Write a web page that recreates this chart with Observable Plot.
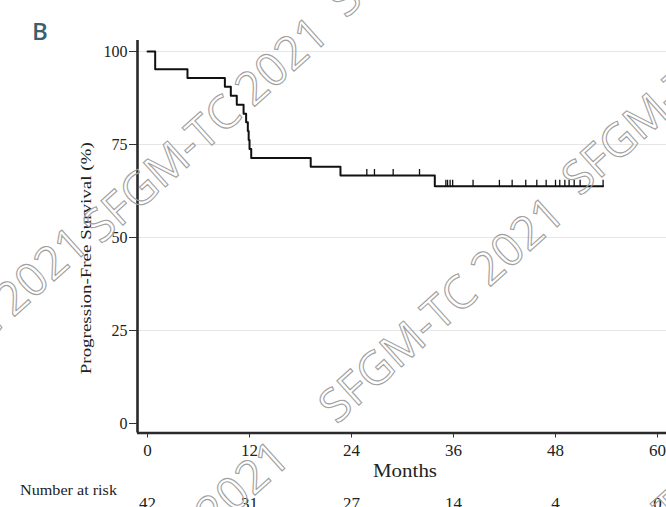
<!DOCTYPE html>
<html><head><meta charset="utf-8">
<script src="https://cdn.jsdelivr.net/npm/d3@7"></script>
<script src="https://cdn.jsdelivr.net/npm/@observablehq/plot@0.6"></script>
<style>
body{margin:0;background:#fff;}
#chart{position:relative;width:666px;height:507px;overflow:hidden;background:#fff;}
</style>
</head><body><div id="chart"></div>
<script>
// Kaplan-Meier steps (month, progression-free survival %)
const stepMonths   = [0, 0.9, 4.7, 9.1, 9.8, 10.5, 11.3, 11.6, 11.8, 11.9, 12.0, 12.2, 19.2, 22.7, 33.8, 53.6];
const stepSurvival = [100, 95.2, 92.9, 90.5, 88.1, 85.7, 83.3, 81.0, 78.6, 76.2, 73.8, 71.4, 69.0, 66.7, 63.8, 63.8];
// Censored observations
const censorMonths   = [25.8, 26.7, 28.9, 32.0, 35.1, 35.3, 35.6, 35.9, 38.3, 41.4, 42.9, 44.5, 45.8, 46.9, 48.0, 48.5, 49.1, 49.6, 50.2, 50.9, 53.6];
const censorSurvival = [66.7, 66.7, 66.7, 66.7, 63.8, 63.8, 63.8, 63.8, 63.8, 63.8, 63.8, 63.8, 63.8, 63.8, 63.8, 63.8, 63.8, 63.8, 63.8, 63.8, 63.8];
// Number at risk
const riskMonths = [0, 12, 24, 36, 48, 60];
const riskCounts = [42, 31, 27, 14, 4, 0];
// Ticks
const xTicks = [0, 12, 24, 36, 48, 60];
const yTicks = [0, 25, 50, 75, 100];
// Texts
const panelLabel = "B";
const yTitle = "Progression-Free Survival (%)";
const xTitle = "Months";
const riskTitle = "Number at risk";
const watermarkText = "SFGM-TC 2021";

const curve = stepMonths.map((m, i) => ({month: m, surv: stepSurvival[i]}));
const censored = censorMonths.map((m, i) => ({month: m, surv: censorSurvival[i]}));
const risk = riskMonths.map((m, i) => ({month: m, n: riskCounts[i]}));

const xDomain = [-1.18, 61.06];
const yDomain = [-2.55, 102.96];
const tickUp = {draw(ctx, size) { const h = Math.sqrt(size / Math.PI) * 2; ctx.moveTo(0, 0); ctx.lineTo(0, -h); }};
const serif = "'Liberation Serif', 'Times New Roman', serif";

const plot = Plot.plot({
  width: 666, height: 507,
  marginLeft: 137, marginRight: 0, marginTop: 40, marginBottom: 74.5,
  style: {fontFamily: serif, fontSize: "17px", color: "#222", background: "transparent", overflow: "visible"},
  x: {domain: xDomain},
  y: {domain: yDomain},
  marks: [
    Plot.gridY(yTicks.filter(t => t > 0), {stroke: "#e6e6e6", strokeOpacity: 1, strokeWidth: 1}),
    Plot.axisX({ticks: xTicks, tickSize: 5, tickPadding: 6, label: null, fontSize: 17, stroke: "#333"}),
    Plot.axisY({ticks: yTicks, tickSize: 8, tickPadding: 2, label: null, fontSize: 16, stroke: "#333"}),
    Plot.line(curve, {x: "month", y: "surv", curve: "step-after", stroke: "#111", strokeWidth: 2}),
    Plot.dot(censored, {x: "month", y: "surv", symbol: tickUp, r: 3.2, stroke: "#111", strokeWidth: 1.3, fill: "none"}),
    Plot.ruleX([xDomain[0]], {stroke: "#2a2a2a", strokeWidth: 2.6}),
    Plot.ruleY([yDomain[0]], {stroke: "#2a2a2a", strokeWidth: 2.6}),
    Plot.text(risk, {x: "month", text: d => String(d.n), frameAnchor: "bottom", dy: 76, fontSize: 17, fill: "#222"})
  ]
});
document.getElementById("chart").appendChild(plot);

const svg = d3.select(plot);
const ys = plot.scale("y");
const yMid = (ys.range[0] + ys.range[1]) / 2;

svg.append("text").text(panelLabel)
  .attr("x", 32).attr("y", 40).attr("text-anchor", "start")
  .attr("font-family", "'Open Sans', sans-serif").attr("font-weight", 600)
  .attr("font-size", 24).attr("fill", "#3b5f70");

svg.append("text").text(yTitle)
  .attr("transform", `translate(91,${yMid + 22}) rotate(-90)`)
  .attr("text-anchor", "middle").attr("font-family", serif).attr("font-size", 15)
  .attr("textLength", 232).attr("lengthAdjust", "spacingAndGlyphs").attr("fill", "#222");

svg.append("text").text(xTitle)
  .attr("x", 405).attr("y", 477).attr("text-anchor", "middle")
  .attr("font-family", serif).attr("font-size", 18)
  .attr("textLength", 64).attr("lengthAdjust", "spacingAndGlyphs").attr("fill", "#222");

svg.append("text").text(riskTitle)
  .attr("x", 20).attr("y", 495).attr("text-anchor", "start")
  .attr("font-family", serif).attr("font-size", 15)
  .attr("textLength", 97).attr("lengthAdjust", "spacingAndGlyphs").attr("fill", "#222");

// Watermark overlay (decoration)
const wmCenters = [[-36, 338], [204, 128], [440, 308], [683, 80], [165, 552], [672, 504], [449, -98]];
svg.append("g").attr("pointer-events", "none")
  .selectAll("text").data(wmCenters).join("text")
  .attr("transform", d => `translate(${d[0]},${d[1]}) rotate(-42)`)
  .attr("text-anchor", "middle").attr("dominant-baseline", "central")
  .attr("font-family", "'Open Sans', sans-serif").attr("font-size", 46)
  .attr("fill", "none").attr("stroke", "#a0a0a0").attr("stroke-width", 1.1)
  .text(watermarkText);
</script>
</body></html>
